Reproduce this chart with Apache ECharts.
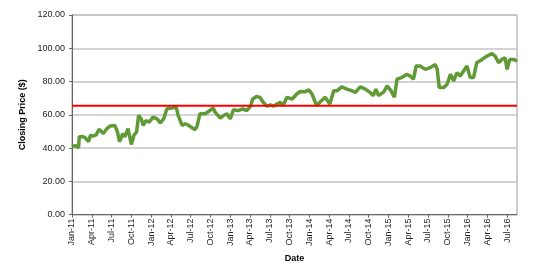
<!DOCTYPE html>
<html>
<head>
<meta charset="utf-8">
<script src="https://cdn.jsdelivr.net/npm/echarts@6/dist/echarts.min.js"></script>
<style>html,body{margin:0;padding:0;background:#fff}#c{width:540px;height:268px}</style>
</head>
<body>
<div id="c"></div>
<script>
// x position: months since Jan 2011
var months = [0,0.5,1.0,1.1,1.5,2.0,2.5,2.8,3.2,3.7,4.1,4.75,5.3,5.8,6.5,6.9,7.2,7.7,8.0,8.5,9.0,9.4,9.8,10.1,10.5,10.8,11.2,11.7,12.3,12.9,13.4,13.9,14.4,15.1,15.8,16.1,16.7,17.2,17.7,18.2,18.7,19.0,19.4,20.2,20.7,21.4,21.7,22.5,23.0,23.5,24.0,24.5,25.2,25.9,26.5,27.1,27.4,28.0,28.5,29.0,29.6,30.1,30.6,31.1,31.6,32.0,32.6,33.4,34.1,34.6,35.3,35.9,36.4,37.1,37.6,38.4,39.1,39.7,40.2,40.9,41.7,42.5,43.0,43.7,44.5,45.2,45.7,46.1,46.5,47.3,47.8,48.4,48.9,49.3,50.0,50.8,51.3,51.8,52.2,52.8,53.6,54.3,55.1,55.4,55.7,56.4,56.9,57.4,57.9,58.4,58.9,59.4,59.9,60.4,60.9,61.4,62.2,62.9,63.7,64.2,64.7,65.2,65.7,66.0,66.4,67.0,67.5];
var prices = [40.8,41.5,40.2,46.7,47.0,46.2,43.8,47.7,47.2,48.1,51.3,48.7,51.7,53.3,53.6,49.7,43.8,48.7,46.7,51.7,42.2,47.7,49.7,59.6,57.6,53.6,56.6,55.6,58.6,57.6,55.2,57.6,63.6,64.0,64.6,59.6,53.6,54.6,53.6,52.1,51.1,53.6,60.6,60.6,62.0,64.0,61.6,58.0,59.6,60.6,57.6,63.1,62.5,63.6,62.5,65.2,69.5,71.1,70.5,67.5,65.2,65.9,65.2,66.5,67.5,65.5,70.5,69.5,72.5,74.0,73.8,75.0,72.5,65.5,67.5,70.5,66.5,74.4,74.4,76.8,75.4,74.4,73.5,76.8,75.4,73.5,71.5,75.4,71.5,73.8,77.4,74.4,70.5,81.4,82.4,84.3,83.3,81.4,89.3,89.3,87.3,88.3,90.3,87.3,76.4,76.4,78.4,84.3,80.4,85.3,83.3,86.3,89.3,82.4,82.4,91.3,93.3,95.2,96.8,95.2,91.3,93.3,94.3,87.3,93.3,93.3,92.3];
var tickLabels = ['Jan-11','Apr-11','Jul-11','Oct-11','Jan-12','Apr-12','Jul-12','Oct-12','Jan-13','Apr-13','Jul-13','Oct-13','Jan-14','Apr-14','Jul-14','Oct-14','Jan-15','Apr-15','Jul-15','Oct-15','Jan-16','Apr-16','Jul-16'];
var thresholdValue = 65.5;
var xMax = 67.5;

var pts = months.map(function(m,i){return [m, prices[i]];});
var chart = echarts.init(document.getElementById('c'));
chart.setOption({
  animation: false,
  grid: {left:72, right:23, top:15, bottom:51, show:true, borderColor:'#9a9a9a', borderWidth:1, backgroundColor:'#fff'},
  xAxis: {
    type:'value', min:0, max:xMax, interval:3,
    name:'Date', nameLocation:'middle', nameGap:38,
    nameTextStyle:{fontFamily:'Liberation Sans', fontWeight:'bold', fontSize:9, color:'#000'},
    axisLine:{show:true, lineStyle:{color:'#666', width:1}},
    axisTick:{show:true, length:3, lineStyle:{color:'#666'}},
    splitLine:{show:false},
    axisLabel:{rotate:90, fontSize:9, fontFamily:'Liberation Sans', color:'#222', margin:4, showMaxLabel:false,
      formatter:function(v){ var i=Math.round(v/3); return (Math.abs(v-i*3)<1e-6 && tickLabels[i]) ? tickLabels[i] : ''; }}
  },
  yAxis: {
    type:'value', min:0, max:120, interval:20,
    name:'Closing Price ($)', nameLocation:'middle', nameGap:40,
    nameTextStyle:{fontFamily:'Liberation Sans', fontWeight:'bold', fontSize:9, color:'#000'},
    axisLine:{show:true, lineStyle:{color:'#666', width:1}},
    axisTick:{show:true, length:3, lineStyle:{color:'#666'}},
    splitLine:{show:true, lineStyle:{color:'#c4c4c4', width:1.5}},
    axisLabel:{fontSize:9, fontFamily:'Liberation Sans', color:'#222', margin:7,
      formatter:function(v){return v.toFixed(2);}}
  },
  series: [
    {type:'line', data:pts, symbol:'none', lineStyle:{color:'#5f9a36', width:3.5, join:'bevel'}, z:3},
    {type:'line', data:[[0,thresholdValue],[xMax,thresholdValue]], symbol:'none', lineStyle:{color:'#ff0000', width:2}, z:4}
  ]
});
</script>
</body>
</html>
